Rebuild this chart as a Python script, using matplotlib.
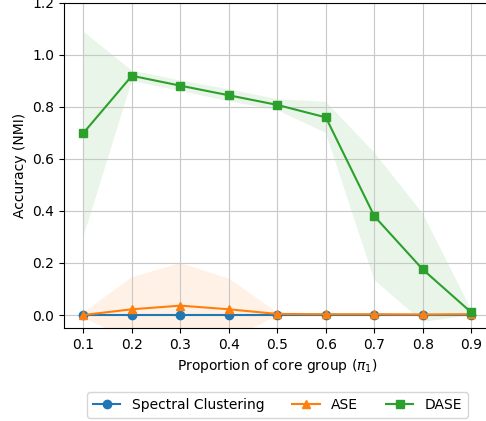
import numpy as np
import matplotlib
matplotlib.use('Agg')
import matplotlib.pyplot as plt

# proportion of core group
pi1 = [0.1, 0.2, 0.3, 0.4, 0.5, 0.6, 0.7, 0.8, 0.9]

# mean accuracy (NMI)
sc_mean = [0.0, 0.0, 0.0, 0.0, 0.0, 0.0, 0.0, 0.0, 0.0]
ase_mean = [0.0, 0.022, 0.036, 0.022, 0.004, 0.003, 0.003, 0.002, 0.003]
dase_mean = [0.70, 0.92, 0.882, 0.845, 0.808, 0.76, 0.38, 0.175, 0.01]

# spread bands
sc_lo = [0.0, 0.0, 0.0, 0.0, 0.0, 0.0, 0.0, 0.0, 0.0]
sc_hi = [0.0, 0.0, 0.0, 0.0, 0.0, 0.0, 0.0, 0.0, 0.0]
ase_lo = [-0.01, -0.10, -0.13, -0.10, -0.002, 0.0, 0.0, -0.002, 0.0]
ase_hi = [0.01, 0.145, 0.20, 0.14, 0.01, 0.006, 0.006, 0.006, 0.006]
dase_lo = [0.30, 0.90, 0.862, 0.822, 0.788, 0.70, 0.135, -0.027, 0.0]
dase_hi = [1.09, 0.94, 0.902, 0.868, 0.83, 0.82, 0.625, 0.39, 0.02]

fig = plt.figure(figsize=(4.86, 4.21), dpi=100)
ax = fig.add_axes([0.1317, 0.2209, 0.878, 0.772])

ax.plot(pi1, sc_mean, marker='o', label='Spectral Clustering')
ax.fill_between(pi1, sc_lo, sc_hi, alpha=0.1)
ax.plot(pi1, ase_mean, marker='^', label='ASE')
ax.fill_between(pi1, ase_lo, ase_hi, alpha=0.1)
ax.plot(pi1, dase_mean, marker='s', label='DASE')
ax.fill_between(pi1, dase_lo, dase_hi, alpha=0.1)

ax.set_xticks(pi1)
ax.set_xlim(0.06, 0.94)
ax.set_ylim(-0.05, 1.2)
ax.grid(True, color='#c8c8c8')
ax.set_xlabel(r'Proportion of core group ($\pi_1$)')
ax.set_ylabel('Accuracy (NMI)')
ax.legend(loc='upper center', bbox_to_anchor=(0.5, -0.177), ncol=3)

plt.savefig('out.png')
